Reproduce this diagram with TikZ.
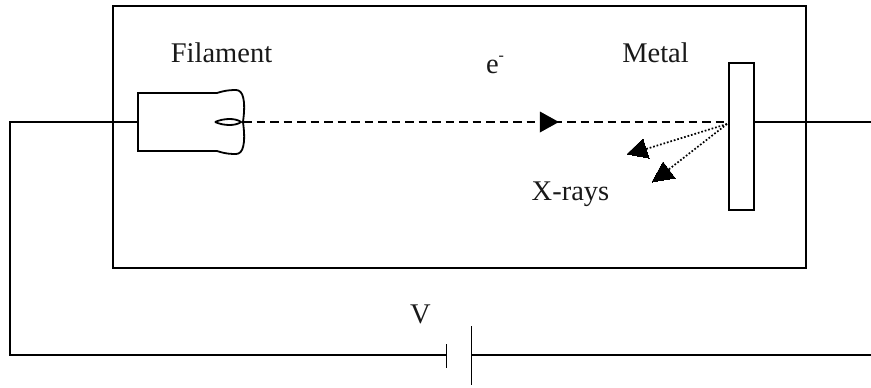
\documentclass[tikz,border=0pt]{standalone}
\usepackage{fontspec}
\setmainfont{Liberation Serif}
\usetikzlibrary{arrows.meta,decorations.markings}
\tikzset{
  wire/.style={line width=1.8pt},
  boxshape/.style={draw,line width=1.9pt,minimum width=0pt,minimum height=0pt,inner sep=0pt,outer sep=0pt},
  lab/.style={font=\fontsize{28.5}{28.5}\selectfont,inner sep=0pt,text=black!90},
  beam/.style={wire,dash pattern=on 8.5pt off 5pt},
  ray/.style={line width=1.7pt,dash pattern=on 1.7pt off 1.9pt},
  jn/.style={inner sep=0pt,minimum size=0pt}
}
\begin{document}
\begin{tikzpicture}[x=1pt,y=-1pt]
\useasboundingbox (0,0) rectangle (871,388);
% tube
\node[boxshape,minimum width=693pt,minimum height=262pt] (tube) at (459.5,137) {};
% metal target
\node[boxshape,minimum width=25pt,minimum height=147pt] (metal) at (741.5,136.5) {};
% filament outline
\coordinate (fw) at (138,122);
\coordinate (ftip) at (243,122);
\draw[wire] (217,93) -- (138,93) -- (138,151) -- (217,151);
\draw[wire] (217,93) .. controls (226,90) and (233,90) .. (236,90)
  .. controls (243,90) and (246,100) .. (ftip)
  .. controls (246,144) and (243,154) .. (236,154)
  .. controls (232,154) and (226,154) .. (217,151);
\draw[wire] (215,122) .. controls (224,118) and (236,118) .. (241,122)
  .. controls (236,126) and (224,126) .. (215,122);
% electron beam
\draw[beam,postaction={decorate},decoration={markings,mark=at position 0.65 with {\arrow[line width=0pt]{Triangle[length=19pt,width=21pt]}}}] (ftip) -- (metal.west |- ftip);
% x-rays
\coordinate (hit) at (727,124);
\coordinate (ray1) at (627,154);
\coordinate (ray2) at (652,182);
\draw[ray] (hit) -- (646,149);
\draw[ray] (hit) -- (668,170);
\draw[line width=0pt,fill=black] (ray1) -- (643,139) -- (649,158) -- cycle;
\draw[line width=0pt,fill=black] (ray2) -- (663,162) -- (675,178) -- cycle;
% circuit
\coordinate (rightend) at (871,122);
\coordinate (corner1) at (10,122);
\coordinate (corner2) at (10,355);
\coordinate (rightend2) at (871,355);
\node[jn] (plateA) at (446.5,355) {};
\node[jn] (plateB) at (471.5,355) {};
\draw[wire] (fw) -- (corner1) -- (corner2) -- (plateA);
\draw[wire] (metal.east |- rightend) -- (rightend);
\draw[wire] (plateB) -- (rightend2);
\draw[wire] (446.5,344) -- (446.5,368);
\draw[line width=1.9pt] (471.5,326) -- (471.5,385);
% labels
\node[lab] (lfil) at (221.5,53) {Filament};
\node[lab] (le) at (495,65) {e\raisebox{0.45em}{\fontsize{16}{16}\selectfont -}};
\node[lab] (lmet) at (655.5,53) {Metal};
\node[lab] (lx) at (570.5,194) {X-rays};
\node[lab] (lv) at (420.5,314) {V};
\end{tikzpicture}
\end{document}
